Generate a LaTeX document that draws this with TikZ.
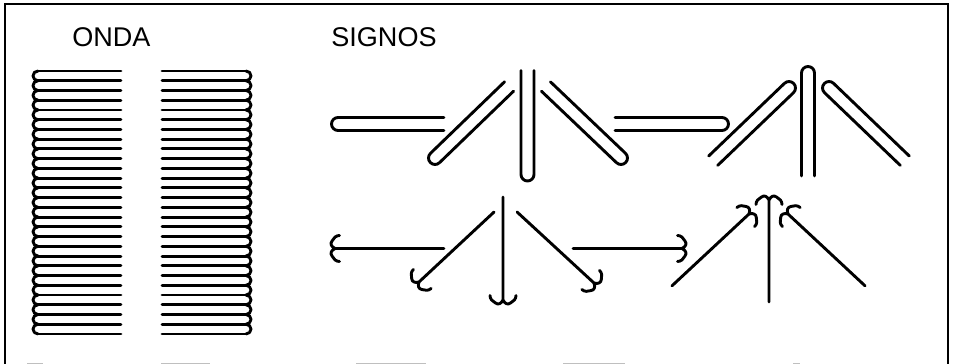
\documentclass[tikz,border=0pt]{standalone}
\usepackage{fontspec}
\setmainfont{Liberation Sans}
\usetikzlibrary{positioning}
% tube: round cap at (#1), turned by #2, arms of length #3
\newcommand{\tube}[3]{\draw[ink, shift={(#1)}, rotate=#2] (#3,6.5) -- (0,6.5) arc[start angle=90, end angle=270, radius=6.5] -- (#3,-6.5);}
% stem: forked end at (#1), turned by #2, length #3
\newcommand{\stem}[3]{\draw[ink, shift={(#1)}, rotate=#2] (#3,0) -- (0,0)
    .. controls (-4,-2) and (-5,-5) .. (-3,-7.5) .. controls (-1.5,-10.5) and (1,-13) .. (4.5,-13)
    (0,0) .. controls (-4,2) and (-5,5) .. (-3,7.5) .. controls (-1.5,10.5) and (1,13) .. (4.5,13);}
\begin{document}
\begin{tikzpicture}[
    x=0.02cm, y=-0.02cm,
    ink/.style={black, line width=1.65pt, line cap=round, line join=round},
    frame/.style={black, line width=1.1pt},
    title/.style={font=\fontsize{15.4}{18}\selectfont, anchor=base west, inner sep=0pt}
  ]
    \useasboundingbox (0,0) rectangle (954,364);
    \fill[white] (0,0) rectangle (954,364);

    % Frame, open at the bottom
    \draw[frame] (5,364) -- (5,4) -- (948,4) -- (948,364);
    % What is left of the bottom edge
    \foreach \a/\b in {27/43, 161/210, 356/426, 563/625, 793/800} {
      \draw[black!25, line width=0.6pt] (\a,363.5) -- (\b,363.5);
    }

    % Titles
    \node[title] (onda)   at (72,47)  {ONDA};
    \node[title] (signos) at (331,47) {SIGNOS};

    % Wave: left and right columns of lines
    \foreach \i in {0,...,27} {
      \draw[ink] (121,71+\i*9.74) -- (38,71+\i*9.74);
      \draw[ink] (162,71+\i*9.74) -- (246,71+\i*9.74);
    }
    % Scallops joining the lines
    \foreach \i in {0,...,26} {
      \draw[ink] (38,71+\i*9.74) arc[start angle=270, end angle=90, x radius=5, y radius=4.87];
      \draw[ink] (246,71+\i*9.74) arc[start angle=-90, end angle=90, x radius=5, y radius=4.87];
    }

    % Upper row of signs
    \tube{338,124}{0}{106}
    \tube{435,158}{44}{103}
    \tube{527.5,174.5}{90}{104}
    \tube{621,158}{136.4}{103.6}
    \tube{722,124}{180}{107}
    \tube{789,88}{223.8}{105}
    \tube{808,73}{-90}{103}
    \tube{829,88}{-43.8}{105}

    % Lower row of signs
    \stem{335,248.5}{0}{109}
    \stem{419,282}{43}{102.6}
    \stem{503,300}{90}{103}
    \stem{594,283}{137.3}{104.7}
    \stem{682,248.5}{180}{109}
    \stem{749,214}{223}{105.4}
    \stem{769,200}{-90}{102}
    \stem{788,214}{-43}{105.4}
\end{tikzpicture}
\end{document}
